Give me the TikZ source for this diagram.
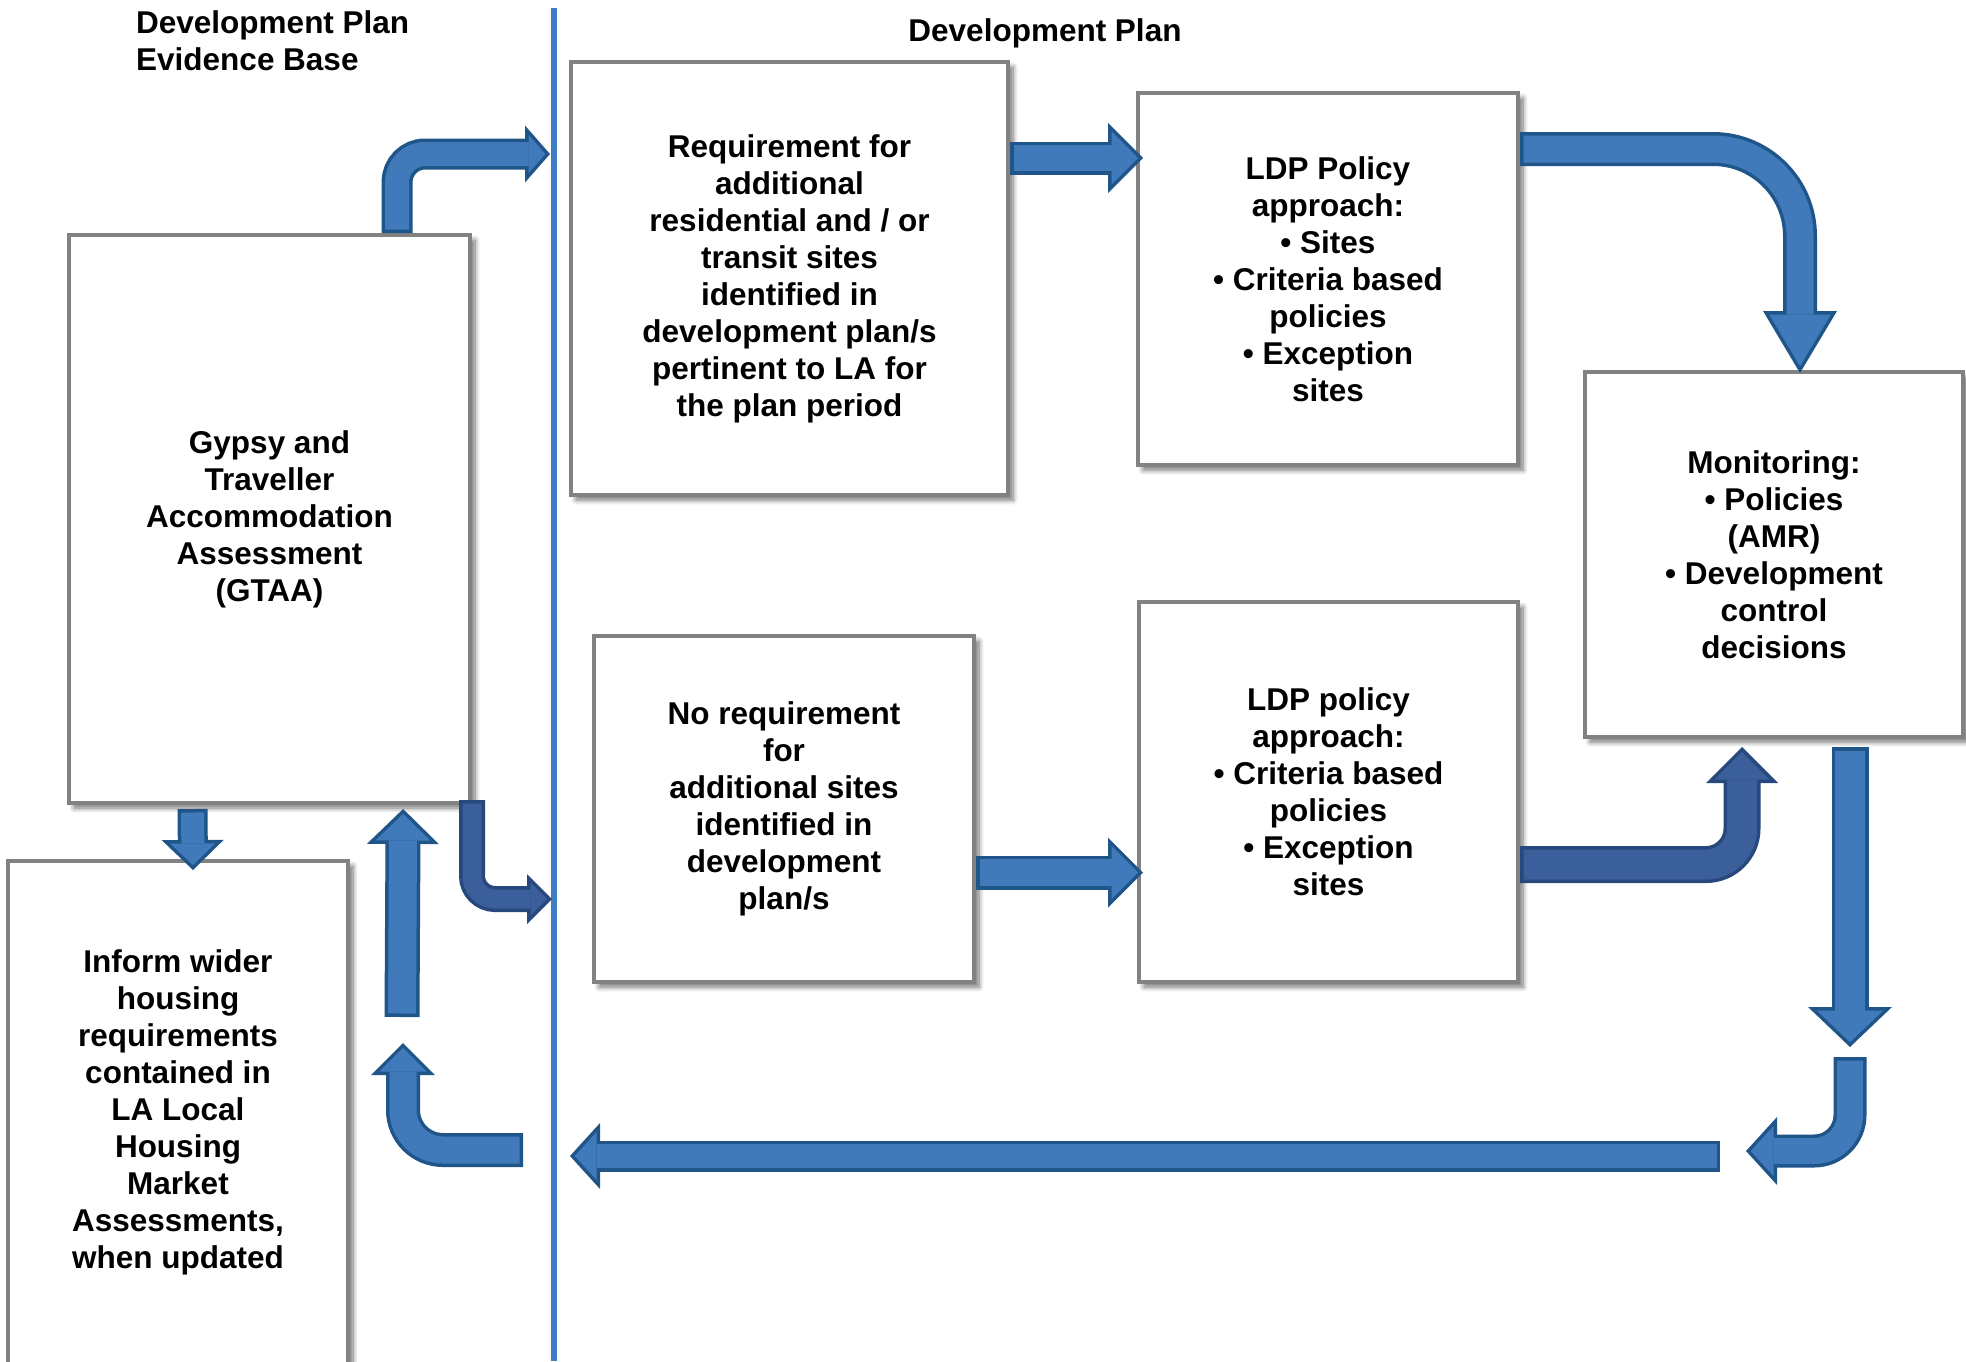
\documentclass[tikz,border=0pt]{standalone}
\usepackage{fontspec}
\setmainfont{Liberation Sans}
\usetikzlibrary{arrows.meta,calc,shadows.blur}

\definecolor{boxline}{RGB}{130,130,130}
\definecolor{divline}{RGB}{61,125,195}
\definecolor{literim}{RGB}{31,85,136}
\definecolor{litecore}{RGB}{65,122,187}
\definecolor{darkrim}{RGB}{38,72,125}
\definecolor{darkcore}{RGB}{59,95,155}

% block arrow: colour set, shaft width, head length, head half width, corner radius, path
\newcommand\blockarrow[6]{%
  \pgfmathsetmacro\arrA{atan(#4/#3)}%
  \pgfmathsetmacro\arrS{3.5/sin(\arrA)}%
  \pgfmathsetmacro\arrL{#3-3.5-\arrS}%
  \pgfmathsetmacro\arrW{2*(#4*(#3-3.5)/#3-3.5/cos(\arrA))}%
  \pgfmathsetmacro\arrWo{2*#4}%
  \pgfmathsetmacro\arrC{#2-7}%
  \draw[#1 rim, line width=#2pt, rounded corners=#5pt,
        -{Triangle[length=#3pt, width=\arrWo pt, line width=0pt]}] #6;
  \draw[#1 core, line width=\arrC pt, rounded corners=#5pt,
        shorten <=3.5pt, shorten >=\arrS pt,
        -{Triangle[length=\arrL pt, width=\arrW pt, line width=0pt]}] #6;
}

\begin{document}
\begin{tikzpicture}[x=1pt,y=-1pt,
    box/.style={draw=boxline, line width=4pt, fill=white, align=center, inner sep=0pt,
      font=\bfseries\fontsize{31.5}{37}\selectfont,
      blur shadow={shadow xshift=5pt, shadow yshift=-5pt, shadow blur radius=5pt,
        shadow blur steps=8, shadow opacity=55}},
    head/.style={font=\bfseries\fontsize{31.5}{37}\selectfont, inner sep=0pt},
    lite rim/.style={color=literim}, lite core/.style={color=litecore},
    dark rim/.style={color=darkrim}, dark core/.style={color=darkcore}]

  \useasboundingbox (0,0) rectangle (1966,1361);

  % headings
  \node[head, anchor=west, align=left] (basehead) at (136,41) {Development Plan\\Evidence Base};
  \node[head] (planhead) at (1045,33) {Development Plan};

  % boxes
  \node[box, minimum width=401pt, minimum height=568pt] (gtaa) at (269.5,519)
    {Gypsy and\\Traveller\\Accommodation\\Assessment\\(GTAA)};
  \node[box, minimum width=340pt, minimum height=503pt] (inform) at (178,1112.5)
    {Inform wider\\housing\\requirements\\contained in\\LA Local\\Housing\\Market\\Assessments,\\when updated};
  \node[box, minimum width=437pt, minimum height=433pt] (req) at (789.5,278.5)
    {Requirement for\\additional\\residential and / or\\transit sites\\identified in\\development plan/s\\pertinent to LA for\\the plan period};
  \node[box, minimum width=380pt, minimum height=372pt] (ldp1) at (1328,279)
    {LDP Policy\\approach:\\• Sites\\• Criteria based\\policies\\• Exception\\sites};
  \node[box, minimum width=378pt, minimum height=365pt] (mon) at (1774,554.5)
    {Monitoring:\\• Policies\\(AMR)\\• Development\\control\\decisions};
  \node[box, minimum width=380pt, minimum height=346pt] (noreq) at (784,809)
    {No requirement\\for\\additional sites\\identified in\\development\\plan/s};
  \node[box, minimum width=379pt, minimum height=380pt] (ldp2) at (1328.5,792)
    {LDP policy\\approach:\\• Criteria based\\policies\\• Exception\\sites};

  % divider
  \coordinate (divtop) at (554,8);
  \coordinate (divbot) at (554,1361);
  \draw[divline, line width=6pt] (divtop) -- (divbot);

  % arrow ends
  \coordinate (div1) at (550,154);
  \coordinate (div3) at (552,899);
  \coordinate (row0) at (0,149);
  \coordinate (row1) at (0,158);
  \coordinate (row2) at (0,864.5);
  \coordinate (row3) at (0,872.5);
  \coordinate (fall) at (1850,1047);
  \coordinate (turn) at (1850,1057);
  \coordinate (back) at (1746,1151);
  \coordinate (retstart) at (1720,1156);
  \coordinate (retend) at (570,1156);
  \coordinate (ustart) at (523,1150);
  \coordinate (uend) at (403,1043);
  \coordinate (upstart) at (402,1017);

  \blockarrow{lite}{31}{25}{28.5}{28}{($(gtaa.north west)!.815!(gtaa.north east)$) |- (div1)}
  \blockarrow{lite}{33}{35}{35}{1}{(req.east |- row1) -- ($(ldp1.west |- row1)+(7,0)$)}
  \blockarrow{lite}{34}{62}{37}{87}{(ldp1.east |- row0) -| ($(mon.north)+(26,3)$)}
  \blockarrow{lite}{37}{40}{42}{1}{($(mon.south)+(76,8)$) -- (fall)}
  \blockarrow{lite}{33}{31}{34}{36}{(turn) |- (back)}
  \blockarrow{lite}{31}{30}{33}{1}{(retstart) -- (retend)}
  \blockarrow{lite}{34}{32}{32}{40}{(ustart) -| (uend)}
  \blockarrow{lite}{35}{35}{36}{1}{(upstart) -- ($(gtaa.south west)!.83!(gtaa.south east)+(0,4)$)}
  \blockarrow{lite}{30}{30}{31}{1}{($(gtaa.south west)!.31!(gtaa.south east)+(0,4)$) -- ($(inform.north)+(15,11)$)}
  \blockarrow{dark}{26}{25}{25}{23}{($(gtaa.south east)+(0,-5)$) |- (div3)}
  \blockarrow{lite}{34}{35}{35}{1}{(noreq.east |- row3) -- ($(ldp2.west |- row3)+(6,0)$)}
  \blockarrow{dark}{37}{36}{36}{36}{(ldp2.east |- row2) -| ($(mon.south)+(-32,8)$)}
\end{tikzpicture}
\end{document}
